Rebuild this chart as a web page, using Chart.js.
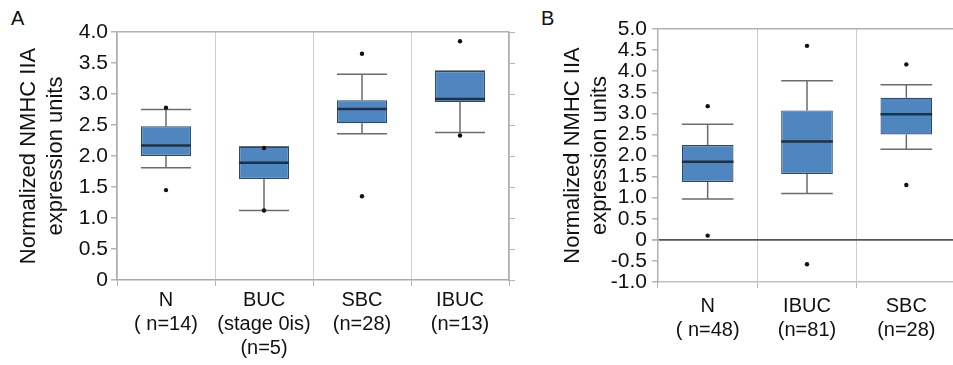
<!DOCTYPE html>
<html lang="en">
<head>
    <title>NMHC IIA expression</title>
    <meta charset="utf-8">
    <script src="https://cdn.jsdelivr.net/npm/chart.js@4.4.0/dist/chart.umd.js"></script>
    <style>
        body { margin: 0; background: #fff; width: 953px; height: 365px; overflow: hidden; position: relative; font-family: "Liberation Sans", Arial, sans-serif; }
        .panel { position: absolute; top: 0; height: 365px; overflow: hidden; }
        .letter { position: absolute; font-size: 20px; color: #111; }
    </style>
</head>
<body>
    <div class="letter" style="left:11px; top:7px;">A</div>
    <div class="letter" style="left:541px; top:7px;">B</div>
    <div class="panel" style="left:0; width:520px;"><canvas id="chartA" width="520" height="365"></canvas></div>
    <div class="panel" style="left:530px; width:423px;"><canvas id="chartB" width="430" height="365"></canvas></div>

    <script>
        // Panel A data
        const catsA = [['N', '( n=14)'], ['BUC', '(stage 0is)', '(n=5)'], ['SBC', '(n=28)'], ['IBUC', '(n=13)']];
        const a_whiskLo = [1.81, 1.12, 2.36, 2.38];
        const a_q1 = [2.00, 1.63, 2.53, 2.87];
        const a_median = [2.17, 1.89, 2.76, 2.92];
        const a_q3 = [2.48, 2.15, 2.90, 3.37];
        const a_whiskHi = [2.75, 2.15, 3.32, 3.37];
        const a_outHi = [2.78, 2.13, 3.65, 3.85];
        const a_outLo = [1.45, 1.12, 1.35, 2.33];

        // Panel B data
        const catsB = [['N', '( n=48)'], ['IBUC', '(n=81)'], ['SBC', '(n=28)']];
        const b_whiskLo = [0.97, 1.10, 2.15];
        const b_q1 = [1.37, 1.56, 2.50];
        const b_median = [1.85, 2.33, 2.98];
        const b_q3 = [2.25, 3.07, 3.37];
        const b_whiskHi = [2.74, 3.77, 3.68];
        const b_outHi = [3.17, 4.60, 4.16];
        const b_outLo = [0.10, -0.58, 1.30];

        const yTitle = ['Normalized NMHC IIA', 'expression units'];
        const textColor = '#111';
        const fontFam = '"Liberation Sans", Arial, sans-serif';

        // whiskers behind the boxes, medians on top of them
        const boxPlugin = {
            id: 'boxParts',
            beforeDatasetsDraw(chart, args, opts) {
                const ctx = chart.ctx;
                const y = chart.scales.y;
                const bars = chart.getDatasetMeta(0).data;
                ctx.save();
                ctx.strokeStyle = '#6b6b6b';
                ctx.lineWidth = 1.5;
                bars.forEach((bar, i) => {
                    const half = bar.width / 2;
                    const pairs = [[opts.q3[i], opts.hi[i]], [opts.q1[i], opts.lo[i]]];
                    pairs.forEach(([from, to]) => {
                        const y1 = y.getPixelForValue(from);
                        const y2 = y.getPixelForValue(to);
                        ctx.beginPath();
                        ctx.moveTo(bar.x, y1);
                        ctx.lineTo(bar.x, y2);
                        ctx.moveTo(bar.x - half, y2);
                        ctx.lineTo(bar.x + half, y2);
                        ctx.stroke();
                    });
                });
                ctx.restore();
            },
            afterDatasetDraw(chart, args, opts) {
                if (args.index !== 0) return;
                const ctx = chart.ctx;
                const y = chart.scales.y;
                ctx.save();
                ctx.strokeStyle = '#1d3047';
                ctx.lineWidth = 2.5;
                args.meta.data.forEach((bar, i) => {
                    const py = y.getPixelForValue(opts.med[i]);
                    ctx.beginPath();
                    ctx.moveTo(bar.x - bar.width / 2, py);
                    ctx.lineTo(bar.x + bar.width / 2, py);
                    ctx.stroke();
                });
                ctx.restore();
            }
        };

        function makeChart(id, cats, q1, q3, med, lo, hi, outHi, outLo, yMin, yMax, cfg) {
            const scales = {
                x: {
                    offset: true,
                    grid: { offset: true, color: '#cfcfcf', tickColor: '#b5b5b5', tickLength: 6 },
                    border: { color: cfg.xBorder, width: 1.5 },
                    ticks: { autoSkip: false, maxRotation: 0, color: textColor, padding: cfg.xPad,
                             font: { family: fontFam, size: 20, lineHeight: 1.2 } },
                    afterFit: s => { s.height = cfg.xHeight; }
                },
                y: {
                    min: yMin, max: yMax,
                    ticks: { stepSize: 0.5, autoSkip: false, color: textColor, padding: cfg.yPad,
                             font: { family: fontFam, size: 21 },
                             callback: v => v === 0 ? '0' : v.toFixed(1) },
                    grid: {
                        tickLength: 6, tickColor: '#b5b5b5',
                        color: c => {
                            if (c.tick && c.tick.value === 0 && yMin < 0) return '#555';
                            if (c.tick && c.tick.value === yMax) return '#b0b0b0';
                            return 'rgba(0,0,0,0)';
                        },
                        lineWidth: c => (c.tick && c.tick.value === 0 && yMin < 0) ? 1.8 : 1.5
                    },
                    border: { color: '#b0b0b0', width: 1.5 },
                    title: { display: true, text: yTitle, color: textColor,
                             font: { family: fontFam, size: 22, lineHeight: 1.25 },
                             padding: { top: cfg.titlePad, bottom: 0 } },
                    afterFit: s => { s.width = cfg.yWidth; }
                }
            };
            if (cfg.rightAxis) {
                scales.y2 = {
                    position: 'right', min: yMin, max: yMax,
                    ticks: { display: false, stepSize: 0.5 },
                    grid: { drawOnChartArea: false, tickLength: 6, color: '#b5b5b5' },
                    border: { color: '#b0b0b0', width: 1.5 },
                    afterFit: s => { s.width = 11; }
                };
            }
            return new Chart(document.getElementById(id), {
                type: 'bar',
                data: {
                    labels: cats,
                    datasets: [
                        {
                            data: q1.map((v, i) => [v, q3[i]]),
                            backgroundColor: '#4f86c0',
                            borderColor: '#2d4a6c',
                            borderWidth: 1.2,
                            borderSkipped: false,
                            categoryPercentage: 1,
                            barPercentage: cfg.barPct,
                            order: 1
                        },
                        {
                            type: 'line', data: outHi, showLine: false, order: 0,
                            pointRadius: 2.2, pointBackgroundColor: '#111', pointBorderWidth: 0
                        },
                        {
                            type: 'line', data: outLo, showLine: false, order: 0,
                            pointRadius: 2.2, pointBackgroundColor: '#111', pointBorderWidth: 0
                        }
                    ]
                },
                options: {
                    responsive: false,
                    animation: false,
                    layout: { padding: { top: cfg.top, right: 0, bottom: 0, left: 0 } },
                    plugins: {
                        legend: { display: false },
                        tooltip: { enabled: false },
                        boxParts: { q1: q1, q3: q3, med: med, lo: lo, hi: hi }
                    },
                    scales: scales
                },
                plugins: [boxPlugin]
            });
        }

        makeChart('chartA', catsA, a_q1, a_q3, a_median, a_whiskLo, a_whiskHi, a_outHi, a_outLo, 0, 4,
            { top: 32, xHeight: 85, yWidth: 117, yPad: 3, xPad: 2, titlePad: 15, barPct: 0.51,
              rightAxis: true, xBorder: '#a8a8a8' });
        makeChart('chartB', catsB, b_q1, b_q3, b_median, b_whiskLo, b_whiskHi, b_outHi, b_outLo, -1, 5,
            { top: 29, xHeight: 83, yWidth: 128, yPad: 5, xPad: 6, titlePad: 29, barPct: 0.52,
              rightAxis: false, xBorder: '#c0c0c0' });
    </script>
</body>
</html>
